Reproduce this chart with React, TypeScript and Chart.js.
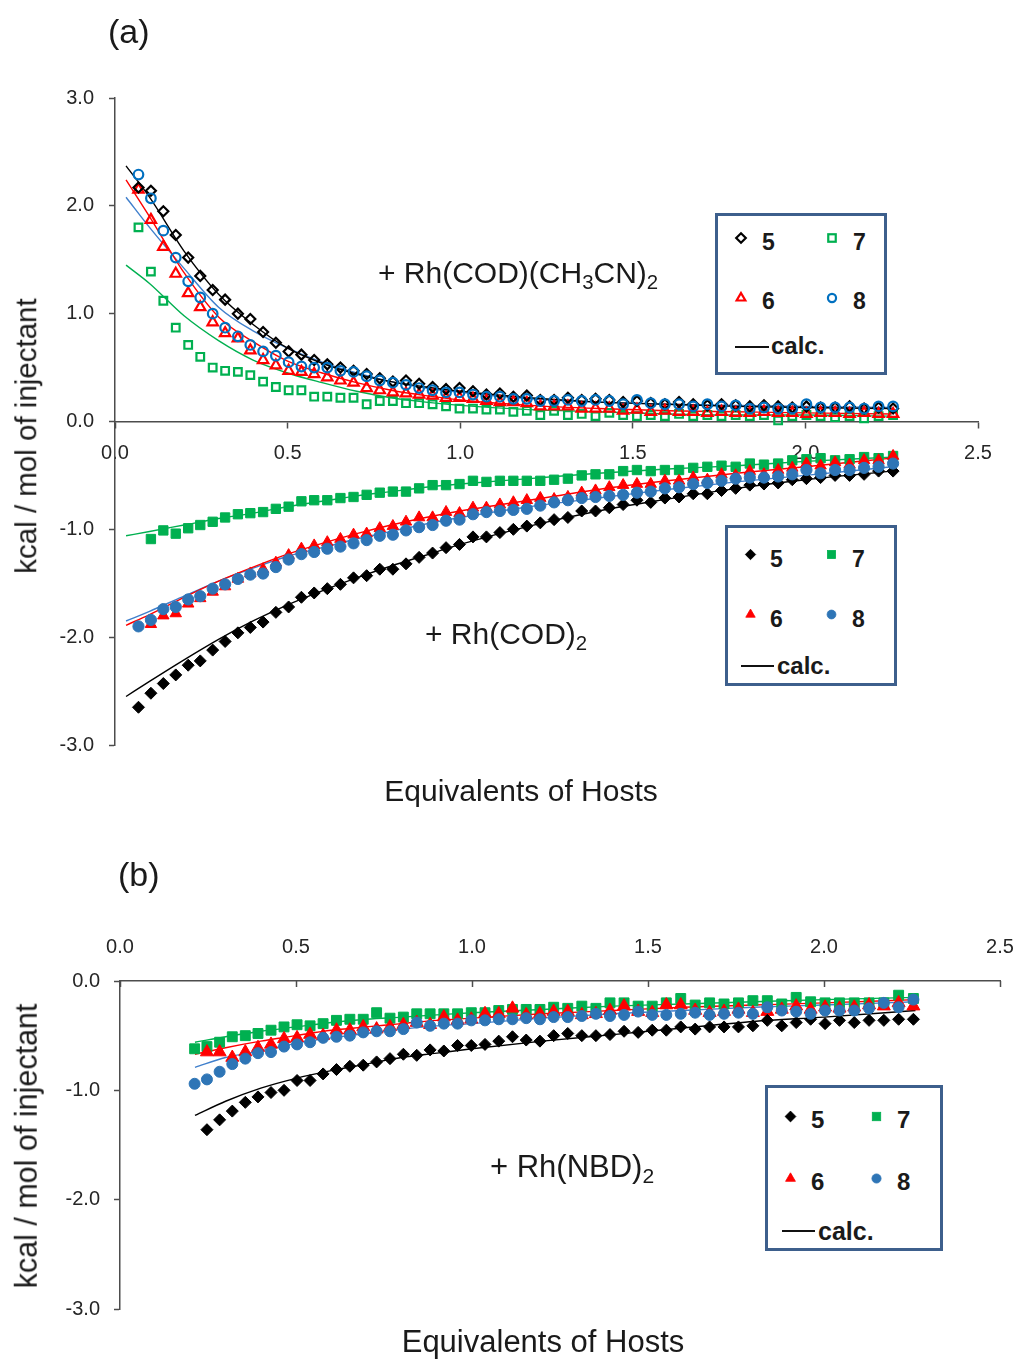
import React, { useEffect, useRef } from "react";
import { Chart, registerables } from "chart.js";

Chart.register(...registerables);

const FONT = '"Liberation Sans", Arial, Helvetica, sans-serif';
const AXIS_COLOR = "#4d4d4d";
const TICK_COLOR = "#262626";
const TEXT_COLOR = "#1a1a1a";

const BLACK = "#000000";
const RED = "#ff0000";
const GREEN = "#00b050";
const BLUE_OPEN = "#0070c0";
const BLUE_FILL = "#2e75b6";
const BLUE_LINE = "#3f7fcc";
const LEGEND_BORDER = "#3d5f8c";

// Equivalents of hosts (injection points)
const EQUIV = [
  0.068, 0.104, 0.14, 0.176, 0.212, 0.247, 0.283, 0.319, 0.356, 0.392, 0.429, 0.466, 0.503, 0.54, 0.577,
  0.615, 0.653, 0.691, 0.729, 0.767, 0.805, 0.843, 0.881, 0.92, 0.959, 0.998, 1.037, 1.076, 1.115, 1.154,
  1.193, 1.232, 1.272, 1.312, 1.352, 1.392, 1.432, 1.472, 1.512, 1.552, 1.593, 1.634, 1.675, 1.716, 1.757,
  1.798, 1.839, 1.88, 1.921, 1.962, 2.003, 2.044, 2.086, 2.128, 2.17, 2.212, 2.254,
];
const EQUIV_B = EQUIV.slice(4);

// (a) + Rh(COD)(CH3CN)2 — open markers
const A_UP_5 = [
  2.17, 2.14, 1.95, 1.73, 1.52, 1.35, 1.22, 1.13, 1.0, 0.95, 0.83, 0.73, 0.65, 0.62, 0.57, 0.53, 0.5, 0.47,
  0.44, 0.4, 0.37, 0.38, 0.35, 0.32, 0.3, 0.31, 0.28, 0.25, 0.26, 0.23, 0.24, 0.2, 0.2, 0.22, 0.2, 0.21, 0.2,
  0.18, 0.19, 0.17, 0.16, 0.18, 0.16, 0.15, 0.16, 0.15, 0.14, 0.15, 0.14, 0.13, 0.14, 0.13, 0.13, 0.14, 0.12,
  0.13, 0.12,
];
const A_UP_6 = [
  2.15, 1.87, 1.62, 1.37, 1.19, 1.06, 0.92, 0.82, 0.77, 0.66, 0.57, 0.52, 0.47, 0.46, 0.44, 0.41, 0.38, 0.36,
  0.31, 0.29, 0.27, 0.26, 0.25, 0.24, 0.22, 0.22, 0.21, 0.19, 0.18, 0.18, 0.17, 0.14, 0.14, 0.14, 0.12, 0.12,
  0.12, 0.1, 0.11, 0.09, 0.1, 0.09, 0.09, 0.08, 0.09, 0.08, 0.08, 0.09, 0.08, 0.08, 0.07, 0.08, 0.08, 0.07,
  0.08, 0.07, 0.07,
];
const A_UP_7 = [
  1.8, 1.39, 1.12, 0.87, 0.71, 0.6, 0.5, 0.47, 0.46, 0.43, 0.37, 0.32, 0.29, 0.29, 0.23, 0.23, 0.22, 0.22, 0.16,
  0.19, 0.19, 0.17, 0.17, 0.16, 0.14, 0.12, 0.12, 0.11, 0.11, 0.09, 0.1, 0.06, 0.1, 0.06, 0.07, 0.05, 0.08,
  0.06, 0.05, 0.06, 0.05, 0.07, 0.05, 0.06, 0.05, 0.06, 0.05, 0.06, 0.01, 0.05, 0.06, 0.05, 0.04, 0.05, 0.03,
  0.05, 0.06,
];
const A_UP_8 = [
  2.29, 2.07, 1.77, 1.52, 1.3, 1.15, 1.0, 0.87, 0.79, 0.71, 0.65, 0.61, 0.55, 0.51, 0.5, 0.5, 0.47, 0.46, 0.42,
  0.38, 0.36, 0.34, 0.31, 0.29, 0.27, 0.27, 0.25, 0.23, 0.23, 0.21, 0.21, 0.19, 0.19, 0.2, 0.19, 0.2, 0.19,
  0.16, 0.2, 0.17, 0.16, 0.16, 0.14, 0.16, 0.14, 0.15, 0.12, 0.13, 0.12, 0.12, 0.16, 0.13, 0.13, 0.13, 0.12,
  0.14, 0.14,
];

// (a) + Rh(COD)2 — filled markers
const A_LO_5 = [
  -2.65, -2.52, -2.43, -2.35, -2.26, -2.22, -2.12, -2.04, -1.96, -1.91, -1.86, -1.77, -1.72, -1.63, -1.59,
  -1.55, -1.51, -1.45, -1.43, -1.37, -1.37, -1.32, -1.26, -1.22, -1.17, -1.14, -1.07, -1.07, -1.03, -1.0,
  -0.97, -0.94, -0.91, -0.89, -0.83, -0.83, -0.8, -0.77, -0.73, -0.75, -0.71, -0.7, -0.67, -0.67, -0.64,
  -0.62, -0.59, -0.58, -0.57, -0.54, -0.53, -0.52, -0.5, -0.5, -0.49, -0.46, -0.46,
];
const A_LO_6 = [
  null, -1.88, -1.8, -1.78, -1.69, -1.64, -1.58, -1.53, -1.46, -1.41, -1.37, -1.31, -1.24, -1.18, -1.15,
  -1.12, -1.09, -1.05, -1.04, -0.99, -0.97, -0.93, -0.89, -0.89, -0.84, -0.85, -0.8, -0.8, -0.77, -0.75,
  -0.73, -0.71, -0.72, -0.7, -0.66, -0.64, -0.61, -0.59, -0.58, -0.58, -0.55, -0.55, -0.52, -0.54, -0.49,
  -0.5, -0.46, -0.49, -0.45, -0.43, -0.39, -0.41, -0.38, -0.4, -0.36, -0.36, -0.32,
];
const A_LO_7 = [
  null, -1.09, -1.01, -1.04, -0.99, -0.96, -0.93, -0.89, -0.86, -0.85, -0.84, -0.81, -0.79, -0.74, -0.73,
  -0.73, -0.71, -0.7, -0.68, -0.66, -0.65, -0.65, -0.62, -0.59, -0.59, -0.58, -0.55, -0.56, -0.55, -0.55,
  -0.55, -0.55, -0.54, -0.53, -0.5, -0.49, -0.49, -0.46, -0.45, -0.46, -0.45, -0.45, -0.43, -0.42, -0.41,
  -0.42, -0.39, -0.4, -0.39, -0.36, -0.35, -0.34, -0.36, -0.35, -0.33, -0.34, -0.32,
];
const A_LO_8 = [
  -1.9, -1.84, -1.74, -1.72, -1.65, -1.62, -1.55, -1.51, -1.46, -1.42, -1.41, -1.35, -1.28, -1.23, -1.21,
  -1.18, -1.16, -1.13, -1.1, -1.06, -1.05, -1.01, -0.98, -0.96, -0.92, -0.91, -0.86, -0.84, -0.83, -0.82,
  -0.81, -0.78, -0.75, -0.73, -0.71, -0.7, -0.69, -0.68, -0.66, -0.65, -0.62, -0.61, -0.58, -0.57, -0.55,
  -0.53, -0.52, -0.52, -0.51, -0.49, -0.45, -0.48, -0.45, -0.45, -0.43, -0.42, -0.39,
];

// (a) calculated curves
const CALC_X_A = [0.032, 0.1, 0.2, 0.3, 0.4, 0.5, 0.6, 0.7, 0.8, 0.9, 1.0, 1.2, 1.4, 1.6, 1.8, 2.0, 2.25];
const CALC_A_UP_5 = [2.37, 2.08, 1.58, 1.18, 0.9, 0.68, 0.54, 0.44, 0.37, 0.32, 0.28, 0.22, 0.18, 0.16, 0.14, 0.13, 0.12];
const CALC_A_UP_6 = [2.24, 1.9, 1.38, 0.97, 0.74, 0.56, 0.45, 0.36, 0.29, 0.24, 0.2, 0.15, 0.12, 0.1, 0.09, 0.08, 0.07];
const CALC_A_UP_7 = [1.45, 1.28, 0.98, 0.75, 0.57, 0.45, 0.36, 0.28, 0.22, 0.18, 0.15, 0.11, 0.09, 0.07, 0.06, 0.06, 0.05];
const CALC_A_UP_8 = [2.08, 1.8, 1.42, 1.06, 0.84, 0.68, 0.55, 0.45, 0.37, 0.31, 0.27, 0.21, 0.18, 0.16, 0.15, 0.14, 0.13];
const CALC_A_LO_5 = [-2.55, -2.41, -2.21, -2.02, -1.85, -1.7, -1.57, -1.45, -1.34, -1.24, -1.14, -0.97, -0.83, -0.72, -0.62, -0.54, -0.46];
const CALC_A_LO_6 = [-1.89, -1.79, -1.63, -1.48, -1.35, -1.23, -1.13, -1.04, -0.96, -0.89, -0.83, -0.73, -0.63, -0.55, -0.48, -0.42, -0.34];
const CALC_A_LO_7 = [-1.06, -1.02, -0.96, -0.9, -0.85, -0.79, -0.74, -0.69, -0.65, -0.61, -0.58, -0.53, -0.48, -0.44, -0.41, -0.37, -0.33];
const CALC_A_LO_8 = [-1.85, -1.76, -1.62, -1.48, -1.36, -1.25, -1.17, -1.09, -1.02, -0.95, -0.89, -0.79, -0.71, -0.63, -0.56, -0.5, -0.42];

// (b) + Rh(NBD)2 — filled markers (on EQUIV_B)
const B_5 = [
  null, -1.36, -1.27, -1.19, -1.11, -1.06, -1.02, -1.0, -0.91, -0.91, -0.85, -0.81, -0.78, -0.77, -0.74,
  -0.71, -0.67, -0.68, -0.63, -0.64, -0.59, -0.59, -0.58, -0.55, -0.51, -0.54, -0.55, -0.5, -0.48, -0.5,
  -0.5, -0.49, -0.46, -0.47, -0.45, -0.45, -0.42, -0.44, -0.42, -0.42, -0.42, -0.41, -0.36, -0.41, -0.38,
  -0.35, -0.39, -0.36, -0.38, -0.36, -0.36, -0.35, -0.35,
];
const B_6 = [
  null, -0.65, -0.65, -0.7, -0.65, -0.61, -0.58, -0.53, -0.52, -0.49, -0.5, -0.45, -0.45, -0.42, -0.44,
  -0.42, -0.4, -0.38, -0.4, -0.33, -0.36, -0.35, -0.3, -0.3, -0.25, -0.31, -0.3, -0.28, -0.28, -0.31, -0.3,
  -0.27, -0.23, -0.28, -0.29, -0.22, -0.22, -0.27, -0.29, -0.28, -0.26, -0.29, -0.28, -0.26, -0.23, -0.26,
  -0.24, -0.25, -0.24, -0.22, -0.23, -0.2, -0.23,
];
const B_7 = [
  -0.62, -0.6, -0.56, -0.51, -0.5, -0.48, -0.45, -0.42, -0.4, -0.41, -0.39, -0.36, -0.35, -0.35, -0.29,
  -0.34, -0.33, -0.3, -0.3, -0.3, -0.3, -0.29, -0.29, -0.27, -0.26, -0.26, -0.26, -0.24, -0.25, -0.23,
  -0.25, -0.2, -0.2, -0.23, -0.23, -0.2, -0.16, -0.22, -0.2, -0.21, -0.2, -0.18, -0.18, -0.21, -0.15, -0.19,
  -0.2, -0.2, -0.2, -0.2, -0.2, -0.13, -0.16,
];
const B_8 = [
  -0.94, -0.9, -0.83, -0.76, -0.71, -0.66, -0.65, -0.6, -0.58, -0.56, -0.52, -0.51, -0.5, -0.47, -0.46,
  -0.46, -0.44, -0.38, -0.41, -0.39, -0.39, -0.36, -0.36, -0.35, -0.35, -0.34, -0.35, -0.33, -0.33, -0.32,
  -0.3, -0.32, -0.31, -0.28, -0.31, -0.31, -0.3, -0.29, -0.31, -0.3, -0.29, -0.3, -0.24, -0.27, -0.28, -0.3,
  -0.27, -0.27, -0.27, -0.25, -0.2, -0.24, -0.17,
];
const CALC_X_B = [0.213, 0.3, 0.4, 0.5, 0.6, 0.7, 0.8, 0.9, 1.0, 1.2, 1.4, 1.6, 1.8, 2.0, 2.26];
const CALC_B_5 = [-1.23, -1.1, -0.98, -0.89, -0.82, -0.76, -0.7, -0.66, -0.62, -0.55, -0.49, -0.43, -0.37, -0.33, -0.27];
const CALC_B_6 = [-0.67, -0.61, -0.55, -0.5, -0.45, -0.42, -0.39, -0.36, -0.34, -0.3, -0.27, -0.24, -0.22, -0.2, -0.17];
const CALC_B_7 = [-0.56, -0.51, -0.46, -0.42, -0.38, -0.35, -0.33, -0.31, -0.29, -0.26, -0.23, -0.21, -0.19, -0.17, -0.15];
const CALC_B_8 = [-0.79, -0.7, -0.64, -0.57, -0.52, -0.48, -0.44, -0.41, -0.39, -0.34, -0.3, -0.27, -0.24, -0.22, -0.19];

const X_TICKS_STEP = 0.5;
const Y_TICKS_STEP = 1;

function pts(xs: number[], ys: (number | null)[]) {
  const out: { x: number; y: number }[] = [];
  ys.forEach((y, i) => {
    if (y !== null && y !== undefined) out.push({ x: xs[i], y });
  });
  return out;
}

function marks(label: string, xs: number[], ys: (number | null)[], style: string, color: string, r: number, filled: boolean, order: number) {
  return {
    label,
    data: pts(xs, ys),
    showLine: false,
    pointStyle: style,
    pointRadius: r,
    pointHoverRadius: r,
    pointBorderColor: color,
    pointBackgroundColor: filled ? color : "rgba(0,0,0,0)",
    pointBorderWidth: filled ? 1 : 2.2,
    order,
  };
}

function calc(label: string, xs: number[], ys: number[], color: string) {
  return {
    label,
    data: pts(xs, ys),
    showLine: true,
    pointRadius: 0,
    pointHoverRadius: 0,
    borderColor: color,
    borderWidth: 1.4,
    cubicInterpolationMode: "monotone",
    fill: false,
    order: 10,
  };
}

const tickFont = { family: FONT, size: 20 };
const fmt = (v: any) => Number(v).toFixed(1);
const gridOpts = {
  display: true,
  drawOnChartArea: false,
  drawTicks: true,
  tickLength: 6,
  tickColor: AXIS_COLOR,
  tickWidth: 1.5,
};
const borderOpts = { display: true, color: AXIS_COLOR, width: 1.5 };

function configA(): any {
  return {
    type: "scatter",
    data: {
      datasets: [
        calc("calc 5 (CH3CN)", CALC_X_A, CALC_A_UP_5, BLACK),
        calc("calc 6 (CH3CN)", CALC_X_A, CALC_A_UP_6, RED),
        calc("calc 7 (CH3CN)", CALC_X_A, CALC_A_UP_7, GREEN),
        calc("calc 8 (CH3CN)", CALC_X_A, CALC_A_UP_8, BLUE_LINE),
        calc("calc 5 (COD)", CALC_X_A, CALC_A_LO_5, BLACK),
        calc("calc 6 (COD)", CALC_X_A, CALC_A_LO_6, RED),
        calc("calc 7 (COD)", CALC_X_A, CALC_A_LO_7, GREEN),
        calc("calc 8 (COD)", CALC_X_A, CALC_A_LO_8, BLUE_LINE),
        marks("7 (CH3CN)", EQUIV, A_UP_7, "rect", GREEN, 5.4, false, 4),
        marks("6 (CH3CN)", EQUIV, A_UP_6, "triangle", RED, 6, false, 3),
        marks("5 (CH3CN)", EQUIV, A_UP_5, "rectRot", BLACK, 5, false, 2),
        marks("8 (CH3CN)", EQUIV, A_UP_8, "circle", BLUE_OPEN, 4.8, false, 1),
        marks("7 (COD)", EQUIV, A_LO_7, "rect", GREEN, 6.6, true, 4),
        marks("6 (COD)", EQUIV, A_LO_6, "triangle", RED, 6.6, true, 3),
        marks("5 (COD)", EQUIV, A_LO_5, "rectRot", BLACK, 6, true, 2),
        marks("8 (COD)", EQUIV, A_LO_8, "circle", BLUE_FILL, 5.6, true, 1),
      ],
    },
    options: {
      responsive: false,
      animation: false,
      events: [],
      layout: { padding: { left: 0, right: 42, top: 98, bottom: 65 } },
      plugins: { legend: { display: false }, tooltip: { enabled: false } },
      scales: {
        x: {
          type: "linear",
          min: 0,
          max: 2.5,
          position: { y: 0 },
          afterFit: (s: any) => {
            s.paddingLeft = 0;
            s.paddingRight = 0;
          },
          ticks: { stepSize: X_TICKS_STEP, autoSkip: false, maxRotation: 0, padding: 14, color: TICK_COLOR, font: tickFont, callback: fmt },
          grid: gridOpts,
          border: borderOpts,
        },
        y: {
          type: "linear",
          min: -3,
          max: 3,
          position: "left",
          afterFit: (s: any) => {
            s.width = 115;
          },
          ticks: { stepSize: Y_TICKS_STEP, autoSkip: false, padding: 15, color: TICK_COLOR, font: tickFont, callback: fmt },
          grid: gridOpts,
          border: borderOpts,
        },
      },
    },
  };
}

const innerTicks = {
  id: "innerTicks",
  afterDraw(chart: any) {
    const xs = chart.scales.x;
    const ctx = chart.ctx;
    const top = chart.chartArea.top;
    ctx.save();
    ctx.strokeStyle = AXIS_COLOR;
    ctx.lineWidth = 1.5;
    xs.ticks.forEach((t: any) => {
      const px = Math.round(xs.getPixelForValue(t.value)) + 0.5;
      ctx.beginPath();
      ctx.moveTo(px, top);
      ctx.lineTo(px, top + 6);
      ctx.stroke();
    });
    ctx.restore();
  },
};

function configB(): any {
  return {
    type: "scatter",
    data: {
      datasets: [
        calc("calc 5", CALC_X_B, CALC_B_5, BLACK),
        calc("calc 6", CALC_X_B, CALC_B_6, RED),
        calc("calc 7", CALC_X_B, CALC_B_7, GREEN),
        calc("calc 8", CALC_X_B, CALC_B_8, BLUE_LINE),
        marks("7", EQUIV_B, B_7, "rect", GREEN, 7, true, 4),
        marks("6", EQUIV_B, B_6, "triangle", RED, 7.5, true, 3),
        marks("5", EQUIV_B, B_5, "rectRot", BLACK, 6, true, 2),
        marks("8", EQUIV_B, B_8, "circle", BLUE_FILL, 5.5, true, 1),
      ],
    },
    options: {
      responsive: false,
      animation: false,
      events: [],
      layout: { padding: { left: 0, right: 20, top: 0, bottom: 50 } },
      plugins: { legend: { display: false }, tooltip: { enabled: false } },
      scales: {
        x: {
          type: "linear",
          min: 0,
          max: 2.5,
          position: "top",
          afterFit: (s: any) => {
            s.height = 141;
            s.paddingLeft = 0;
            s.paddingRight = 0;
          },
          ticks: { stepSize: X_TICKS_STEP, autoSkip: false, maxRotation: 0, padding: 22, color: TICK_COLOR, font: tickFont, callback: fmt },
          grid: { ...gridOpts, drawTicks: false },
          border: borderOpts,
        },
        y: {
          type: "linear",
          min: -3,
          max: 0,
          position: "left",
          afterFit: (s: any) => {
            s.width = 120;
          },
          ticks: { stepSize: Y_TICKS_STEP, autoSkip: false, padding: 14, color: TICK_COLOR, font: tickFont, callback: fmt },
          grid: gridOpts,
          border: borderOpts,
        },
      },
    },
    plugins: [innerTicks],
  };
}

function ChartCanvas({ top, height, make }: { top: number; height: number; make: () => any }) {
  const ref = useRef<HTMLCanvasElement>(null);
  useEffect(() => {
    const chart = new Chart(ref.current as HTMLCanvasElement, make());
    return () => chart.destroy();
  }, []);
  return (
    <canvas
      ref={ref}
      width={1020}
      height={height}
      style={{ position: "absolute", left: 0, top, width: 1020, height, display: "block" }}
    />
  );
}

function Txt({ left, baseline, size, center, bold, children }: any) {
  const style: React.CSSProperties = {
    position: "absolute",
    left,
    top: baseline - 0.8465 * size,
    fontSize: size,
    lineHeight: `${size}px`,
    whiteSpace: "nowrap",
    fontWeight: bold ? "bold" : "normal",
    transform: center ? "translateX(-50%)" : undefined,
  };
  return <div style={style}>{children}</div>;
}

function VTxt({ cx, cy, size, children }: any) {
  return (
    <div
      style={{
        position: "absolute",
        left: cx,
        top: cy,
        fontSize: size,
        lineHeight: `${size}px`,
        whiteSpace: "nowrap",
        transform: "translate(-50%, -50%) rotate(-90deg)",
      }}
    >
      {children}
    </div>
  );
}

const Sub = ({ children }: any) => (
  <span style={{ fontSize: "0.68em", position: "relative", top: "0.32em" }}>{children}</span>
);

function Marker({ kind, color, filled, cx, cy, s }: any) {
  const sz = Math.ceil(s * 2 + 6);
  const c = sz / 2;
  const fill = filled ? color : "none";
  const sw = filled ? 0.8 : 2.2;
  let shape: any;
  if (kind === "diamond") {
    shape = <polygon points={`${c},${c - s} ${c + s},${c} ${c},${c + s} ${c - s},${c}`} fill={fill} stroke={color} strokeWidth={sw} />;
  } else if (kind === "square") {
    const h = s * 0.78;
    shape = <rect x={c - h} y={c - h} width={2 * h} height={2 * h} fill={fill} stroke={color} strokeWidth={sw} />;
  } else if (kind === "triangle") {
    const r = s * 1.05;
    shape = (
      <polygon
        points={`${c},${c - r} ${c + r * 0.866},${c + r * 0.5} ${c - r * 0.866},${c + r * 0.5}`}
        fill={fill}
        stroke={color}
        strokeWidth={sw}
      />
    );
  } else {
    shape = <circle cx={c} cy={c} r={s * 0.85} fill={fill} stroke={color} strokeWidth={sw} />;
  }
  return (
    <svg width={sz} height={sz} style={{ position: "absolute", left: cx - c, top: cy - c }}>
      {shape}
    </svg>
  );
}

function Legend({ L, filled, blue }: any) {
  return (
    <div
      style={{
        position: "absolute",
        left: L.left,
        top: L.top,
        width: L.w,
        height: L.h,
        boxSizing: "border-box",
        border: `3px solid ${LEGEND_BORDER}`,
        background: "#fff",
      }}
    >
      <div style={{ position: "absolute", left: -3, top: -3, width: L.w, height: L.h }}>
        <Marker kind="diamond" color={BLACK} filled={filled} cx={L.c1} cy={L.r1} s={L.ms} />
        <Marker kind="square" color={GREEN} filled={filled} cx={L.c2} cy={L.r1} s={L.ms} />
        <Marker kind="triangle" color={RED} filled={filled} cx={L.c1} cy={L.r2} s={L.ms} />
        <Marker kind="circle" color={blue} filled={filled} cx={L.c2} cy={L.r2} s={L.ms} />
        <Txt left={L.t1} baseline={L.b1} size={L.fs} bold>5</Txt>
        <Txt left={L.t2} baseline={L.b1} size={L.fs} bold>7</Txt>
        <Txt left={L.t1} baseline={L.b2} size={L.fs} bold>6</Txt>
        <Txt left={L.t2} baseline={L.b2} size={L.fs} bold>8</Txt>
        <div style={{ position: "absolute", left: L.lx1, top: L.ly - 1, width: L.lx2 - L.lx1, height: 2, background: "#111" }} />
        <Txt left={L.cx} baseline={L.cb} size={L.cfs} bold>calc.</Txt>
      </div>
    </div>
  );
}

const LEG_A1 = { left: 715, top: 213, w: 172, h: 162, c1: 26, c2: 117, r1: 24.5, r2: 84.5, t1: 47, t2: 138, b1: 37, b2: 96, lx1: 20, lx2: 54, ly: 134, cx: 56, cb: 141, fs: 23, cfs: 24, ms: 4.8 };
const LEG_A2 = { left: 725, top: 525, w: 172, h: 161, c1: 25, c2: 106, r1: 29.5, r2: 89, t1: 45, t2: 127, b1: 42, b2: 102, lx1: 16, lx2: 49, ly: 141, cx: 52, cb: 149, fs: 23, cfs: 24, ms: 5.2 };
const LEG_B = { left: 765, top: 1085, w: 178, h: 166, c1: 25, c2: 111, r1: 31, r2: 93, t1: 46, t2: 132, b1: 43, b2: 105, lx1: 17, lx2: 50, ly: 146, cx: 53, cb: 155, fs: 24, cfs: 25, ms: 5.4 };

export default function App() {
  return (
    <div
      style={{
        position: "absolute",
        left: 0,
        top: 0,
        width: 1020,
        height: 1359,
        background: "#fff",
        fontFamily: FONT,
        color: TEXT_COLOR,
        overflow: "hidden",
      }}
    >
      <ChartCanvas top={0} height={810} make={configA} />
      <ChartCanvas top={840} height={519} make={configB} />

      <Txt left={108} baseline={43} size={34}>(a)</Txt>
      <Txt left={118} baseline={886} size={34}>(b)</Txt>

      <VTxt cx={25.8} cy={436} size={29.5}>kcal / mol of injectant</VTxt>
      <VTxt cx={25.7} cy={1146} size={30.5}>kcal / mol of injectant</VTxt>

      <Txt left={521} baseline={801} size={30} center>Equivalents of Hosts</Txt>
      <Txt left={543} baseline={1352} size={31} center>Equivalents of Hosts</Txt>

      <Txt left={378} baseline={283} size={30}>
        + Rh(COD)(CH<Sub>3</Sub>CN)<Sub>2</Sub>
      </Txt>
      <Txt left={425} baseline={644} size={30}>
        + Rh(COD)<Sub>2</Sub>
      </Txt>
      <Txt left={490} baseline={1177} size={31}>
        + Rh(NBD)<Sub>2</Sub>
      </Txt>

      <Legend L={LEG_A1} filled={false} blue={BLUE_OPEN} />
      <Legend L={LEG_A2} filled={true} blue={BLUE_FILL} />
      <Legend L={LEG_B} filled={true} blue={BLUE_FILL} />
    </div>
  );
}
